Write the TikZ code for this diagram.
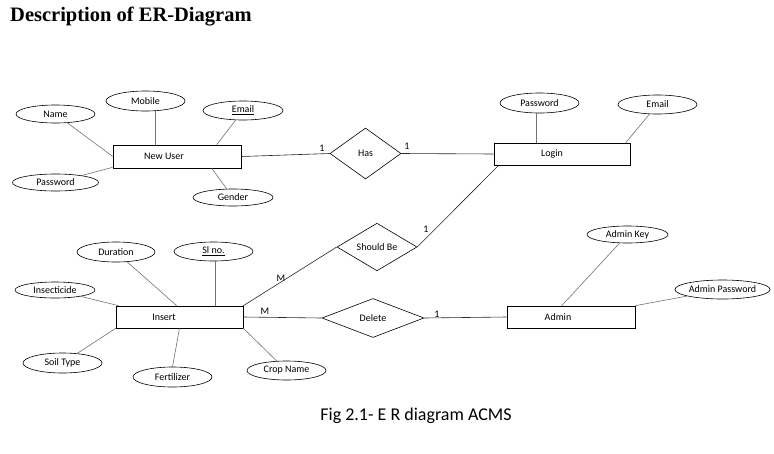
\documentclass[tikz,border=0pt]{standalone}
\usepackage{fontspec}
\setmainfont{Carlito}
\newfontfamily\titlefont{Liberation Serif}
\usetikzlibrary{shapes.geometric,calc}
\tikzset{
  attr/.style={draw, ellipse, line width=0.6pt, inner sep=0pt, font=\fontsize{10}{11}\selectfont},
  entity/.style={draw, rectangle, line width=0.6pt, inner sep=0pt},
  rel/.style={draw, diamond, line width=0.6pt, inner sep=0pt, font=\fontsize{10}{11}\selectfont},
  lab/.style={font=\fontsize{10}{11}\selectfont, inner sep=0pt},
  aline/.style={draw=black!55, line width=0.6pt},
  rline/.style={draw=black!85, line width=0.6pt},
  card/.style={font=\fontsize{10}{11}\selectfont, inner sep=0pt},
}
\begin{document}
\begin{tikzpicture}[x=1pt,y=-1pt]
\useasboundingbox (0,0) rectangle (774,453);
% title and caption
\node[anchor=west, inner sep=0pt, font=\titlefont\bfseries\fontsize{20.5}{22}\selectfont] (title) at (10,17) {Description of ER-Diagram};
\node[inner sep=0pt, font=\fontsize{18}{20}\selectfont] (cap) at (416,416) {Fig 2.1- E R diagram ACMS};

% entities
\node[entity, minimum width=128, minimum height=23, label={[lab, xshift=-13pt]center:New User}] (nu) at (177,156.5) {};
\node[entity, minimum width=136, minimum height=22, label={[lab, xshift=-10pt]center:Login}] (lg) at (562,154) {};
\node[entity, minimum width=127, minimum height=22, label={[lab, xshift=-15.5pt]center:Insert}] (ins) at (179.5,317) {};
\node[entity, minimum width=128, minimum height=22, label={[lab, xshift=-13pt]center:Admin}] (ad) at (571,317) {};

% relationships
\node[rel, minimum width=71, minimum height=51] (has) at (365.5,153.5) {Has};
\node[rel, minimum width=80, minimum height=42] (sb) at (377,247) {Should Be};
\node[rel, minimum width=102, minimum height=39] (del) at (373,318) {Delete};

% attributes: New User
\node[attr, minimum width=79, minimum height=18] (nm) at (55.5,114) {Name};
\node[attr, minimum width=79, minimum height=20] (mb) at (145.5,101) {Mobile};
\node[attr, minimum width=80, minimum height=19] (em) at (243,110.5) {\underline{Email}};
\node[attr, minimum width=86, minimum height=17] (pw) at (55.5,182.5) {Password};
\node[attr, minimum width=80, minimum height=17] (gd) at (233,197.5) {Gender};
% attributes: Login
\node[attr, minimum width=79, minimum height=20] (lp) at (539.5,103) {Password};
\node[attr, minimum width=79, minimum height=19] (le) at (657.5,104.5) {Email};
% attributes: Insert
\node[attr, minimum width=78, minimum height=20] (du) at (116,252) {Duration};
\node[attr, minimum width=79, minimum height=19] (sl) at (213.5,251.5) {\underline{Sl no.}};
\node[attr, minimum width=80, minimum height=16] (ic) at (55,290) {Insecticide};
\node[attr, minimum width=79, minimum height=20] (st) at (62.5,363) {Soil Type};
\node[attr, minimum width=79, minimum height=20] (fz) at (172.5,377) {Fertilizer};
\node[attr, minimum width=79, minimum height=19] (cn) at (286.5,370.5) {Crop Name};
% attributes: Admin
\node[attr, minimum width=81, minimum height=17] (ak) at (627.5,234.5) {Admin Key};
\node[attr, minimum width=81, minimum height=19] (ap) at (722.5,289.5) {Admin Password};

% attribute lines
\draw[aline] (nm) -- (nu.west);
\draw[aline] ([xshift=43pt]nu.north west) -- ([xshift=43pt]nu.north west |- mb.south);
\draw[aline] (em) -- ([xshift=104pt]nu.north west);
\draw[aline] (pw) -- ([yshift=1pt]nu.south west);
\draw[aline] ([xshift=99pt]nu.south west) -- (gd);
\draw[aline] ([xshift=43pt]lg.north west) -- ([xshift=43pt]lg.north west |- lp.south);
\draw[aline] (le) -- ([xshift=132pt]lg.north west);
\draw[aline] (du) -- ([xshift=61pt]ins.north west);
\draw[aline] ([xshift=100pt]ins.north west) -- ([xshift=100pt]ins.north west |- sl.south);
\draw[aline] (ic) -- ([xshift=3pt]ins.north west);
\draw[aline] (st) -- (ins.south west);
\draw[aline] (ins.south) -- (fz.north);
\draw[aline] (ins.south east) -- (cn);
\draw[aline] (ak) -- ([xshift=55pt]ad.north west);
\draw[aline] (ap) -- (ad.north east);

% relationship lines
\draw[rline] (nu.east) -- (has.west);
\draw[rline] (has.east) -- (lg.west);
\draw[rline] ([xshift=5pt]lg.south west) -- (sb.east);
\draw[rline] (sb.west) -- (ins.north east);
\draw[rline] (ins.east) -- (del.west);
\draw[rline] (del.east) -- (ad.west);

% cardinalities
\node[card] (c1) at (322,148) {1};
\node[card] (c2) at (407,146) {1};
\node[card] (c3) at (426,229) {1};
\node[card] (c4) at (281,278) {M};
\node[card] (c5) at (265,311) {M};
\node[card] (c6) at (437,314) {1};
\end{tikzpicture}
\end{document}
